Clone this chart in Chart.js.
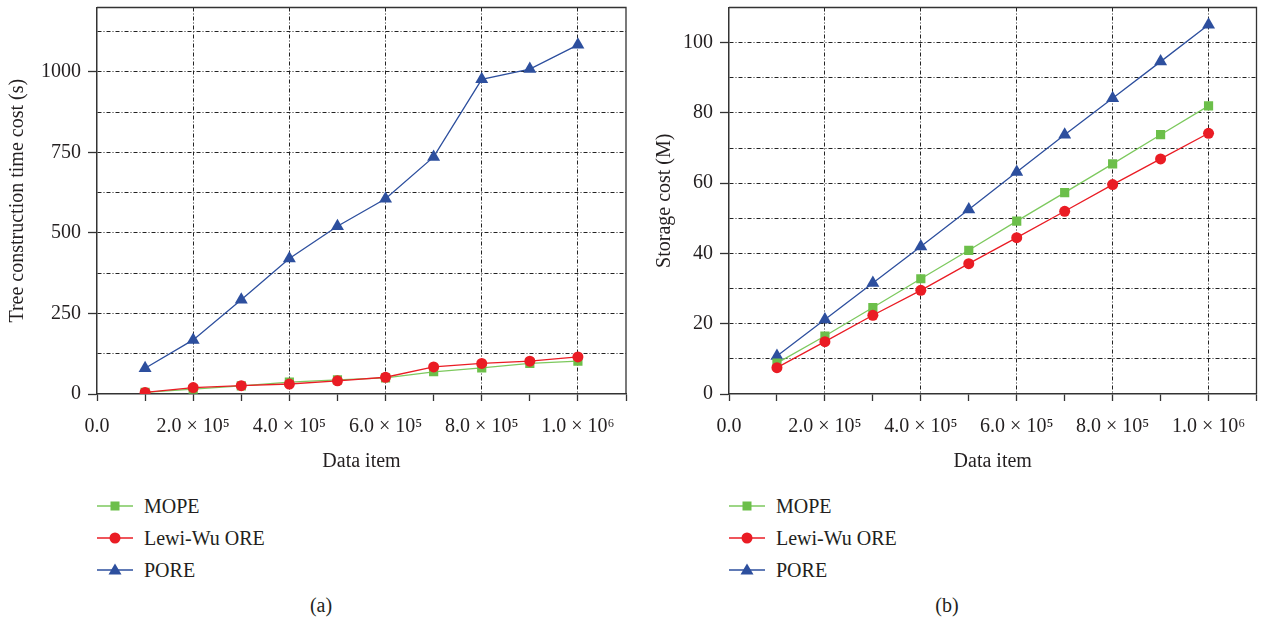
<!DOCTYPE html>
<html>
<head>
<meta charset="utf-8">
<script src="https://cdn.jsdelivr.net/npm/chart.js@4.4.0/dist/chart.umd.min.js"></script>
<style>
  body { margin: 0; background: #fff; width: 1264px; height: 620px; position: relative; overflow: hidden;
         font-family: "Liberation Serif", "Times New Roman", serif; color: #231f20; }
  .panel { position: absolute; top: 0; height: 480px; }
  .legend { position: absolute; top: 490px; font-size: 20px; }
  .legend .row { height: 32px; display: flex; align-items: center; }
  .legend svg { margin-right: 11px; }
  .caption { position: absolute; top: 593px; font-size: 20px; line-height: 24px; transform: translateX(-50%); }
</style>
</head>
<body>
<div class="panel" style="left:0; width:640px;"><canvas id="chart-time" width="640" height="480"></canvas></div>
<div class="panel" style="left:632px; width:632px;"><canvas id="chart-storage" width="632" height="480"></canvas></div>
<div class="legend" id="legend-time" style="left:97px;"></div>
<div class="legend" id="legend-storage" style="left:729px;"></div>
<div class="caption" style="left:321px;">(a)</div>
<div class="caption" style="left:947px;">(b)</div>

<script>
// data
const dataItems = [100000, 200000, 300000, 400000, 500000, 600000, 700000, 800000, 900000, 1000000];
const seriesNames = ['MOPE', 'Lewi-Wu ORE', 'PORE'];

const timeMope = [5, 15, 25, 37, 44, 50, 69, 81, 95, 102];
const timeLewiWu = [5, 20, 26, 31, 41, 52, 84, 95, 102, 115];
const timePore = [80, 168, 293, 421, 521, 606, 736, 977, 1009, 1084];

const storageMope = [8.8, 16.5, 24.6, 32.8, 40.9, 49.2, 57.3, 65.5, 73.8, 82.0];
const storageLewiWu = [7.5, 14.9, 22.4, 29.5, 37.1, 44.5, 52.0, 59.6, 66.9, 74.2];
const storagePore = [10.8, 21.2, 31.6, 42.0, 52.5, 63.2, 73.8, 84.2, 94.6, 105.1];

// tick labels
const xTickValues = [0, 200000, 400000, 600000, 800000, 1000000];
const xTickTexts = ['0.0', '2.0 × 10⁵', '4.0 × 10⁵', '6.0 × 10⁵', '8.0 × 10⁵', '1.0 × 10⁶'];
const timeYTicks = [0, 250, 500, 750, 1000];
const storageYTicks = [0, 20, 40, 60, 80, 100];

const colors = ['#6cbf4a', '#ea1c24', '#2d4f9e'];
const lineColors = ['#7dc95e', '#ea1c24', '#2d4f9e'];
const pointStyles = ['rect', 'circle', 'triangle'];
const pointSizes = [6.5, 5.5, 7.5];
const fontFamily = '"Liberation Serif", "Times New Roman", serif';
const ink = '#231f20';
const gridDash = [4, 2, 1, 2];

// draws the top and right edges of the plot box
const frame = {
  id: 'frame',
  afterDraw(chart) {
    const {ctx, chartArea: a} = chart;
    ctx.save();
    ctx.strokeStyle = '#333';
    ctx.lineWidth = 1.3;
    ctx.beginPath();
    ctx.moveTo(a.left, a.top);
    ctx.lineTo(a.right, a.top);
    ctx.lineTo(a.right, a.bottom);
    ctx.stroke();
    ctx.restore();
  }
};

function makeChart(canvasId, values, yMax, yStep, yLabels, yTitle, titlePad, padRight) {
  // lower order = drawn on top, red markers sit over the green ones
  const order = [1, 0, 2];
  const datasets = values.map((arr, i) => ({
    label: seriesNames[i],
    data: dataItems.map((x, j) => ({x: x, y: arr[j]})),
    borderColor: lineColors[i],
    backgroundColor: colors[i],
    pointBackgroundColor: colors[i],
    pointBorderColor: colors[i],
    pointBorderWidth: 0,
    borderWidth: 1.3,
    pointStyle: pointStyles[i],
    pointRadius: pointSizes[i],
    fill: false,
    tension: 0,
    order: order[i]
  }));

  return new Chart(document.getElementById(canvasId), {
    type: 'line',
    data: {datasets: datasets},
    plugins: [frame],
    options: {
      responsive: false,
      animation: false,
      devicePixelRatio: 1,
      layout: {padding: {top: 6, right: padRight, bottom: 0, left: 0}},
      plugins: {legend: {display: false}, tooltip: {enabled: false}},
      scales: {
        x: {
          type: 'linear',
          min: 0,
          max: 1100000,
          afterFit: scale => { scale.height = 86; scale.paddingLeft = 0; scale.paddingRight = 0; },
          border: {display: true, color: '#333', width: 1.5, dash: gridDash},
          grid: {
            color: c => {
              const v = Math.round(c.tick ? c.tick.value : -1);
              return (v > 0 && v <= 1000000 && v % 200000 === 0) ? '#222' : 'rgba(0,0,0,0)';
            },
            lineWidth: 1,
            tickColor: '#333',
            tickLength: 7,
            tickWidth: 1.3
          },
          ticks: {
            stepSize: 100000,
            autoSkip: false,
            maxRotation: 0,
            padding: 14,
            color: ink,
            font: {family: fontFamily, size: 20},
            callback: v => {
              const k = xTickValues.indexOf(Math.round(v));
              return k >= 0 ? xTickTexts[k] : '';
            }
          },
          title: {display: true, text: 'Data item', color: ink, font: {family: fontFamily, size: 20}, padding: {top: 0, bottom: 6}}
        },
        y: {
          min: 0,
          max: yMax,
          afterFit: scale => { scale.width = 97; scale.paddingTop = 0; scale.paddingBottom = 0; },
          border: {display: true, color: '#333', width: 1.5, dash: gridDash},
          grid: {
            color: c => (c.tick && c.tick.value > 0) ? '#222' : 'rgba(0,0,0,0)',
            lineWidth: 1,
            tickColor: c => (c.tick && yLabels.includes(c.tick.value)) ? '#333' : 'rgba(0,0,0,0)',
            tickLength: 9,
            tickWidth: 1.3
          },
          ticks: {
            stepSize: yStep,
            autoSkip: false,
            padding: 7,
            color: ink,
            font: {family: fontFamily, size: 20},
            callback: v => yLabels.includes(v) ? String(v) : ''
          },
          title: {display: true, text: yTitle, color: ink, font: {family: fontFamily, size: 20}, padding: {top: titlePad, bottom: 0}}
        }
      }
    }
  });
}

function markerSvg(i) {
  const c = colors[i];
  let m;
  if (pointStyles[i] === 'rect') m = `<rect x="13.5" y="3.5" width="9" height="9" fill="${c}"/>`;
  else if (pointStyles[i] === 'circle') m = `<circle cx="18" cy="8" r="5.5" fill="${c}"/>`;
  else m = `<polygon points="18,1.5 24.5,12.5 11.5,12.5" fill="${c}"/>`;
  return `<svg width="36" height="16"><line x1="0" y1="8" x2="36" y2="8" stroke="${lineColors[i]}" stroke-width="1.5"/>${m}</svg>`;
}

function buildLegend(id) {
  const box = document.getElementById(id);
  seriesNames.forEach((name, i) => {
    const row = document.createElement('div');
    row.className = 'row';
    row.innerHTML = markerSvg(i) + '<span>' + name + '</span>';
    box.appendChild(row);
  });
}

makeChart('chart-time', [timeMope, timeLewiWu, timePore], 1200, 125, timeYTicks,
          'Tree construction time cost (s)', 6, 14);
makeChart('chart-storage', [storageMope, storageLewiWu, storagePore], 110, 10, storageYTicks,
          'Storage cost (M)', 21, 7);
buildLegend('legend-time');
buildLegend('legend-storage');
</script>
</body>
</html>
